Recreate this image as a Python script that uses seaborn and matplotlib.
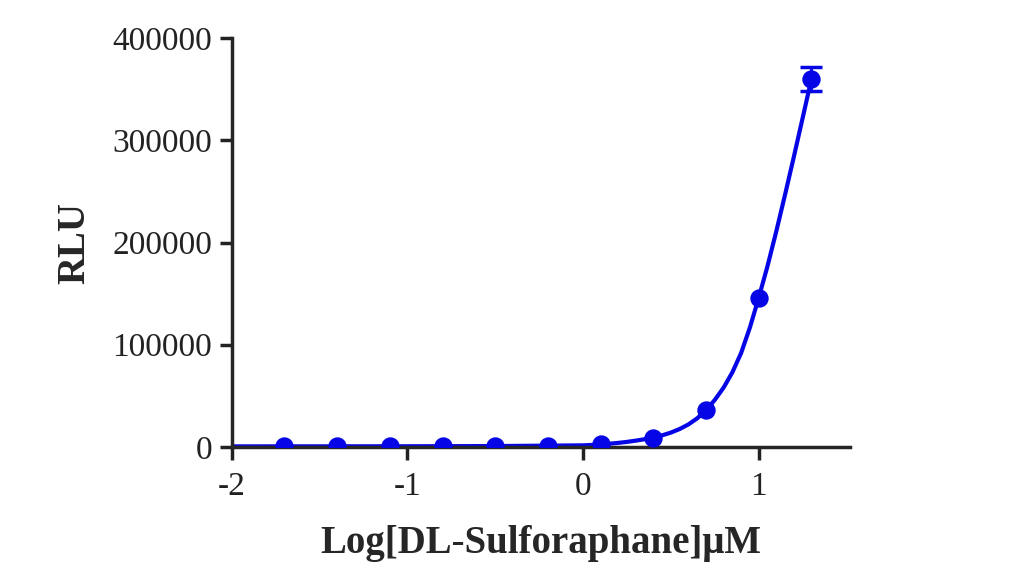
import numpy as np
import pandas as pd
import matplotlib
matplotlib.use('Agg')
import matplotlib.pyplot as plt
import seaborn as sns

sns.set_style('ticks')
plt.rcParams['font.family'] = ['Liberation Serif', 'DejaVu Serif']

# measured points (log concentration, RLU)
log_conc = [-1.7, -1.4, -1.1, -0.8, -0.5, -0.2, 0.1, 0.4, 0.7, 1.0, 1.3]
rlu = [600, 600, 600, 600, 650, 800, 2800, 9000, 36000, 146000, 360000]
# only the top dose has a visible error bar
err_x = [1.3]
err_y = [360000]
err_sd = [12000]

# fitted curve
fit_x = [-2.0, -1.0, -0.5, 0.0, 0.05, 0.1, 0.15, 0.2, 0.25, 0.3, 0.35, 0.4, 0.45,
         0.5, 0.55, 0.6, 0.65, 0.7, 0.75, 0.8, 0.85, 0.9, 0.95, 1.0, 1.05, 1.1,
         1.15, 1.2, 1.25, 1.3]
fit_y = [500, 600, 800, 1500, 1900, 2500, 3100, 3900, 4900, 6100, 7500, 9200, 11300,
         14000, 17500, 22000, 28000, 36000, 46000, 58000, 73000, 92000, 117000,
         146000, 177000, 211000, 247000, 284000, 322000, 360000]

blue = '#0505e6'
pts = pd.DataFrame({'x': log_conc, 'y': rlu})
curve = pd.DataFrame({'x': fit_x, 'y': fit_y})

fig = plt.figure(figsize=(10.12, 5.88), dpi=100)
ax = fig.add_axes([0.229, 0.24, 0.611, 0.695])

sns.lineplot(data=curve, x='x', y='y', color=blue, lw=3, ax=ax)
ax.errorbar(err_x, err_y, yerr=err_sd, fmt='none', ecolor=blue, elinewidth=2,
            capsize=8, capthick=2.5)
sns.scatterplot(data=pts, x='x', y='y', color=blue, s=150, edgecolor=blue, zorder=3,
                ax=ax)

ax.set_xlim(-2, 1.52)
ax.set_ylim(0, 400000)
ax.set_xticks([-2, -1, 0, 1])
ax.set_yticks([0, 100000, 200000, 300000, 400000])
ax.set_yticklabels(['0', '100000', '200000', '300000', '400000'])
ax.set_xticklabels(['-2', '-1', '0', '1'])
sns.despine(ax=ax)
for s in ['left', 'bottom']:
    ax.spines[s].set_linewidth(2.5)
ax.tick_params(axis='both', direction='out', length=9, width=2.5,
               labelsize=24, colors='#222222', pad=5)
ax.tick_params(axis='x', pad=9)
ax.set_xlabel('Log[DL-Sulforaphane]μM', fontsize=28, fontweight='bold', labelpad=16)
ax.set_ylabel('RLU', fontsize=28, fontweight='bold', labelpad=14)

fig.savefig('out.png', dpi=100)
plt.close(fig)
